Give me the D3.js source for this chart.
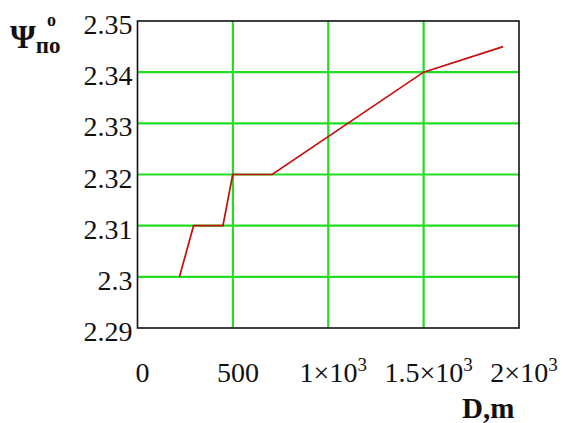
<!DOCTYPE html>
<html>
<head>
<meta charset="utf-8">
<script src="https://cdn.jsdelivr.net/npm/d3@7"></script>
<style>
  body { margin: 0; background: #fff; }
  text { font-family: "Liberation Serif", "Times New Roman", serif; fill: #111; }
</style>
</head>
<body>
<div id="chart"></div>
<script>
// Chart data
var distance = [220, 294, 448, 499, 706, 1500, 1917];
var psi = [2.30, 2.31, 2.31, 2.32, 2.32, 2.34, 2.345];

var xTicks = [0, 500, 1000, 1500, 2000];
var xTickLabels = [["0", ""], ["500", ""], ["1\u00d710", "3"], ["1.5\u00d710", "3"], ["2\u00d710", "3"]];
var yTicks = [2.29, 2.30, 2.31, 2.32, 2.33, 2.34, 2.35];
var yTickLabels = ["2.29", "2.3", "2.31", "2.32", "2.33", "2.34", "2.35"];

var svgWidth = 563;
var svgHeight = 423;

var margin = { top: 21, right: 44, bottom: 95, left: 137.5 };
var width = 519 - margin.left;
var height = 328 - margin.top;

var svg = d3.select("#chart")
  .append("svg")
  .attr("width", svgWidth)
  .attr("height", svgHeight);

var chartGroup = svg.append("g")
  .attr("transform", `translate(${margin.left}, ${margin.top})`);

var xScale = d3.scaleLinear().domain([0, 2000]).range([0, width]);
var yScale = d3.scaleLinear().domain([2.29, 2.35]).range([height, 0]);

// green grid
chartGroup.selectAll(".vgrid")
  .data(xTicks.slice(1, -1))
  .enter()
  .append("line")
  .attr("x1", d => xScale(d)).attr("x2", d => xScale(d))
  .attr("y1", 0).attr("y2", height)
  .attr("stroke", "#22dd22")
  .attr("stroke-width", 2.2);

chartGroup.selectAll(".hgrid")
  .data(yTicks.slice(1, -1))
  .enter()
  .append("line")
  .attr("y1", d => yScale(d)).attr("y2", d => yScale(d))
  .attr("x1", 0).attr("x2", width)
  .attr("stroke", "#22dd22")
  .attr("stroke-width", 2.2);

// frame
chartGroup.append("rect")
  .attr("width", width)
  .attr("height", height)
  .attr("fill", "none")
  .attr("stroke", "#111")
  .attr("stroke-width", 1.6);

// the curve
var line = d3.line()
  .x((d, i) => xScale(distance[i]))
  .y(d => yScale(d));

chartGroup.append("path")
  .datum(psi)
  .attr("d", line)
  .attr("fill", "none")
  .attr("stroke", "#c80c0c")
  .attr("stroke-width", 1.7);

// y tick labels
chartGroup.selectAll(".ylab")
  .data(yTicks)
  .enter()
  .append("text")
  .attr("x", -5)
  .attr("y", d => yScale(d) + 13)
  .attr("text-anchor", "end")
  .style("font-size", "28px")
  .text((d, i) => yTickLabels[i]);

// x tick labels
var xl = chartGroup.selectAll(".xlab")
  .data(xTicks)
  .enter()
  .append("text")
  .attr("x", d => xScale(d) + 5)
  .attr("y", height + 54)
  .attr("text-anchor", "middle")
  .style("font-size", "28px");

xl.append("tspan").text((d, i) => xTickLabels[i][0]);
xl.append("tspan")
  .attr("dy", -11)
  .style("font-size", "19px")
  .text((d, i) => xTickLabels[i][1]);

// axis titles
var yTitle = svg.append("text")
  .attr("x", 10)
  .attr("y", 48)
  .style("font-weight", "bold")
  .style("font-size", "33px");
yTitle.append("tspan").text("\u03a8");
yTitle.append("tspan")
  .attr("dy", 5)
  .style("font-size", "23px")
  .text("\u043f\u043e");
svg.append("text")
  .attr("x", 47)
  .attr("y", 26)
  .style("font-weight", "bold")
  .style("font-size", "18px")
  .text("o");

svg.append("text")
  .attr("x", 462)
  .attr("y", 418)
  .style("font-weight", "bold")
  .style("font-size", "29px")
  .text("D,m");
</script>
</body>
</html>
